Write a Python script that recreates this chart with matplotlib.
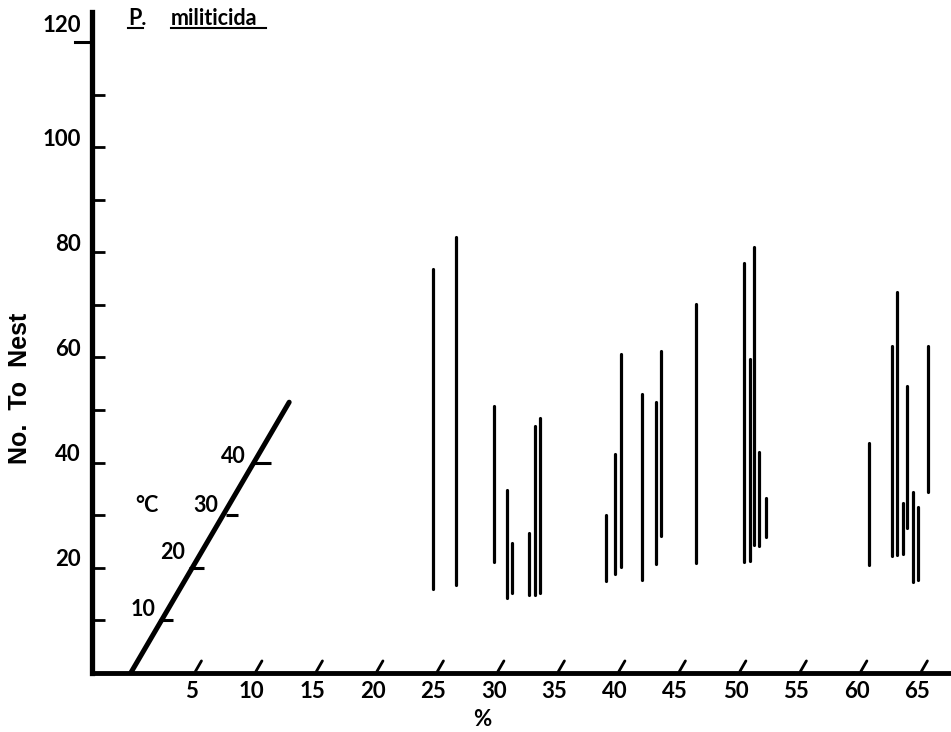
import matplotlib
matplotlib.use("Agg")
import matplotlib.pyplot as plt

plt.rcParams['font.family'] = ['Lato', 'DejaVu Sans']
plt.rcParams['font.weight'] = 'bold'

# range bars: x position (%), low and high "No. To Nest"
bar_x = [24.5, 26.4, 29.5, 30.6, 31.0, 32.4, 32.9, 33.3,
         38.8, 39.5, 40.0, 41.8, 42.9, 43.3, 46.2,
         50.2, 50.7, 51.0, 51.4, 52.0,
         60.5, 62.4, 62.8, 63.3, 63.7, 64.2, 64.6, 65.4]
bar_low = [16.0, 16.7, 21.2, 14.3, 15.2, 14.8, 14.8, 15.2,
           17.5, 18.8, 20.2, 17.7, 20.7, 26.1, 21.0,
           21.2, 21.3, 24.3, 24.2, 25.8,
           20.5, 22.2, 22.4, 22.7, 27.5, 17.4, 17.7, 34.4]
bar_high = [76.9, 83.0, 50.8, 34.8, 24.7, 26.7, 47.0, 48.4,
            30.0, 41.6, 60.6, 53.0, 51.5, 61.3, 70.2,
            77.9, 59.8, 81.0, 42.1, 33.2,
            43.8, 62.1, 72.5, 32.4, 54.6, 34.5, 31.5, 62.1]

# temperature scale line drawn on the chart
temp_line_x = [-0.5, 12.6]
temp_line_y = [0, 51.5]
temp_labels = ['10', '20', '30', '40']
temp_y = [10, 20, 30, 40]
temp_tick_x0 = [1.8, 4.3, 7.4, 9.7]
temp_tick_x1 = [3.0, 5.6, 8.4, 11.1]
temp_label_x = [0.55, 3.0, 5.7, 8.0]
temp_label_y = [12.0, 22.9, 31.8, 41.1]

x_ticks = [5, 10, 15, 20, 25, 30, 35, 40, 45, 50, 55, 60, 65]
y_ticks_minor = [10, 30, 50, 70, 90, 110]
y_ticks_major = [20, 40, 60, 80, 100]

fig = plt.figure(figsize=(9.51, 7.32), dpi=100)
ax = fig.add_axes([0.0967, 0.0806, 0.9033, 0.903])
ax.set_xlim(-3.7, 67.3)
ax.set_ylim(0, 125.7)

for s in ['top', 'right']:
    ax.spines[s].set_visible(False)
ax.spines['left'].set_linewidth(3.8)
ax.spines['bottom'].set_linewidth(3.5)

ax.vlines(bar_x, bar_low, bar_high, colors='black', linewidth=2.3, capstyle='round')

# temperature scale
ax.plot(temp_line_x, temp_line_y, color='black', linewidth=3.6, solid_capstyle='round')
ax.hlines(temp_y, temp_tick_x0, temp_tick_x1, colors='black', linewidth=2.2)
for lab, lx, ly in zip(temp_labels, temp_label_x, temp_label_y):
    ax.text(lx, ly, lab, ha='center', va='center', fontsize=15.5)
ax.text(0.85, 31.8, '°C', ha='center', va='center', fontsize=15.5)

# y ticks (inward) and labels
ax.set_yticks(y_ticks_minor + y_ticks_major)
ax.tick_params(axis='y', direction='in', length=9, width=2, labelleft=False)
for v in y_ticks_major:
    ax.text(-4.6, v + 1.5, str(v), ha='right', va='center', fontsize=16)
# 120 tick pointing outward
ax.plot([-5.1, -3.7], [120, 120], color='black', linewidth=2.2, clip_on=False)
ax.text(-4.6, 123.2, '120', ha='right', va='center', fontsize=16)

# slanted x ticks
ax.set_xticks([])
for t in x_ticks:
    ax.plot([t - 0.15, t + 0.35], [0.3, 2.3], color='black', linewidth=2, solid_capstyle='round')
    ax.text(t - 0.5, -3.6, str(t), ha='center', va='center', fontsize=16)

fig.text(0.507, 0.003, '%', ha='center', va='bottom', fontsize=16)
fig.text(0.021, 0.47, 'No.  To  Nest', rotation=90, ha='center', va='center',
         fontsize=18, family='Liberation Sans')

# species label, underlined
ax.text(-0.7, 124.5, 'P.', ha='left', va='center', fontsize=15.5)
ax.plot([-0.7, 0.5], [122.6, 122.6], color='black', linewidth=1.5)
ax.text(2.8, 124.5, 'militicida', ha='left', va='center', fontsize=15.5)
ax.plot([2.8, 10.7], [122.6, 122.6], color='black', linewidth=1.5)

fig.savefig('out.png', dpi=100)
